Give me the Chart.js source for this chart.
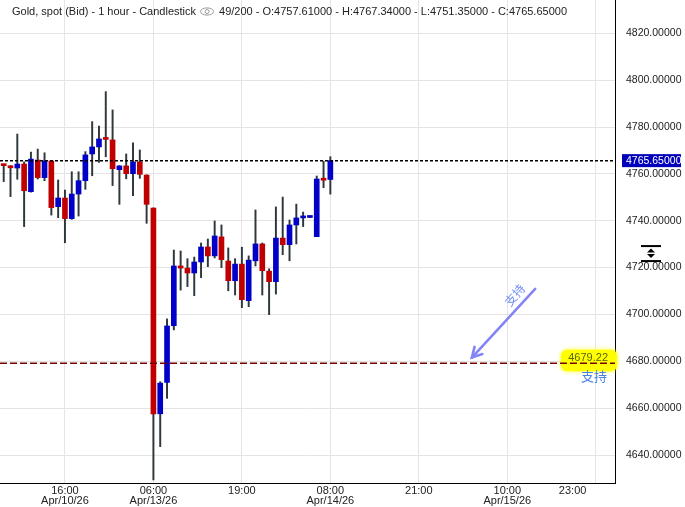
<!DOCTYPE html>
<html><head><meta charset="utf-8">
<script src="https://cdn.jsdelivr.net/npm/chart.js@4.4.1/dist/chart.umd.min.js"></script>
<style>html,body{margin:0;padding:0;background:#fff;}#wrap{width:685px;height:507px;position:relative;}canvas{display:block;}</style>
</head><body><div id="wrap"><canvas id="c" width="685" height="507"></canvas></div>
<script>
// ---- data (hourly candles, index 0..48) ----
const OPEN  = [4764.0,4763.4,4762.5,4764.2,4752.4,4765.9,4758.4,4765.5,4746.0,4749.7,4740.9,4751.4,4757.1,4768.5,4771.5,4775.1,4774.5,4761.8,4763.4,4760.1,4765.1,4759.5,4745.4,4657.6,4671.0,4695.2,4720.7,4719.8,4717.7,4722.4,4728.8,4725.0,4733.1,4722.8,4714.4,4721.5,4705.9,4722.9,4730.1,4718.5,4714.0,4732.6,4729.8,4738.2,4741.2,4741.4,4733.2,4757.6,4757.61];
const HIGH  = [4764.2,4763.5,4777.0,4765.1,4769.3,4770.6,4769.0,4765.7,4757.4,4753.1,4760.9,4760.9,4769.5,4782.3,4780.4,4795.1,4787.3,4763.5,4768.5,4773.2,4770.2,4759.6,4745.5,4671.3,4698.1,4727.5,4727.1,4723.8,4724.5,4730.5,4732.2,4739.9,4738.2,4728.4,4723.8,4728.7,4725.0,4744.6,4730.5,4719.5,4745.9,4750.1,4740.3,4747.1,4743.7,4741.6,4759.1,4765.4,4767.34];
const LOW   = [4756.7,4750.3,4757.7,4737.5,4752.2,4757.8,4757.1,4742.4,4741.3,4730.6,4740.6,4742.0,4753.4,4759.2,4764.9,4767.3,4755.0,4747.0,4757.9,4750.7,4758.1,4738.9,4629.4,4643.6,4664.2,4693.4,4710.4,4711.9,4708.0,4715.7,4720.4,4724.1,4720.0,4710.1,4708.3,4702.9,4703.3,4720.7,4708.3,4699.9,4708.7,4725.5,4722.9,4730.1,4737.5,4741.4,4733.2,4754.1,4751.35];
const CLOSE = [4763.5,4762.6,4764.2,4752.8,4766.3,4758.4,4765.5,4745.6,4749.7,4740.9,4751.4,4757.1,4768.1,4771.5,4774.9,4774.7,4762.2,4763.4,4760.1,4765.1,4759.8,4747.0,4657.6,4670.7,4695.1,4720.7,4719.8,4717.7,4722.4,4728.8,4725.0,4733.5,4723.4,4714.4,4721.5,4706.3,4723.2,4730.1,4718.7,4714.0,4732.6,4729.8,4738.2,4741.2,4742.0,4741.6,4757.8,4757.3,4765.65];

// ---- axis ticks ----
const X_GRID_INDEX  = [9, 22, 35, 48, 61, 74, 87];
const X_LABEL_INDEX = [9, 22, 35, 48, 61, 74, 83.6];
const X_TICK_TIMES  = ['16:00','06:00','19:00','08:00','21:00','10:00','23:00'];
const X_TICK_DATES  = ['Apr/10/26','Apr/13/26','','Apr/14/26','','Apr/15/26',''];
const Y_TICKS = [4640,4660,4680,4700,4720,4740,4760,4780,4800,4820];
const X_MIN = -0.544, X_MAX = 89.83;
const Y_MIN = 4628.07, Y_MAX = 4834.21;

// ---- annotations ----
const LAST_PRICE = 4765.65;
const SUPPORT_PRICE = 4679.22;
const SUPPORT_TEXT = '支持';
const ARROW_FROM = [78.1, 4710.9];
const ARROW_TO   = [68.8, 4681.6];
const ARROW_TEXT_AT = [75.1, 4708.3];
const HEADER_TITLE = 'Gold, spot (Bid) - 1 hour - Candlestick';
const BARS_TOTAL = 200;

const UP = '#0000c8', DOWN = '#c00000', WICK = '#2e383c';
const FONT = '"Liberation Sans", Arial, sans-serif';
const CJK = '"Noto Sans CJK SC", sans-serif';

const idx = OPEN.map((_, i) => i);
const wickData = idx.map(i => ({x: i, y: [LOW[i], HIGH[i]]}));
const bodyData = idx.map(i => ({x: i, y: [OPEN[i], CLOSE[i]]}));
const bodyColors = idx.map(i => CLOSE[i] >= OPEN[i] ? UP : DOWN);

const zeroPad = s => { s.paddingTop = 0; s.paddingBottom = 0; s.paddingLeft = 0; s.paddingRight = 0; };

const overlay = {
  id: 'overlay',
  beforeDatasetsDraw(chart) {
    const {ctx, chartArea: a, scales: {y}} = chart;
    const py = y.getPixelForValue(SUPPORT_PRICE);
    ctx.save();
    ctx.fillStyle = '#ffff00';
    ctx.shadowColor = 'rgba(255,255,0,0.9)';
    ctx.shadowBlur = 4;
    ctx.beginPath();
    ctx.roundRect(a.right - 54, py - 13.5, 56, 21.5, 6);
    ctx.fill();
    ctx.restore();
  },
  afterDraw(chart) {
    const {ctx, chartArea: a, scales: {x, y}} = chart;
    ctx.save();
    // header
    const n = OPEN.length - 1;
    ctx.font = '11px ' + FONT;
    ctx.fillStyle = '#222';
    ctx.textBaseline = 'alphabetic';
    ctx.textAlign = 'left';
    ctx.fillText(HEADER_TITLE, 12, 15);
    const tw = ctx.measureText(HEADER_TITLE).width;
    const ex = 12 + tw + 11, ey = 11.5;
    ctx.strokeStyle = '#9a9a9a'; ctx.lineWidth = 1;
    ctx.beginPath(); ctx.ellipse(ex, ey, 6.5, 3.6, 0, 0, Math.PI * 2); ctx.stroke();
    ctx.beginPath(); ctx.arc(ex, ey, 2, 0, Math.PI * 2); ctx.stroke();
    const info = OPEN.length + '/' + BARS_TOTAL + ' - O:' + OPEN[n].toFixed(5) + ' - H:' + HIGH[n].toFixed(5) +
                 ' - L:' + LOW[n].toFixed(5) + ' - C:' + CLOSE[n].toFixed(5);
    ctx.fillText(info, ex + 12, 15);

    // last price box on axis
    const lp = y.getPixelForValue(LAST_PRICE);
    ctx.fillStyle = '#0000bb';
    ctx.fillRect(a.right + 7, lp - 6.5, 59, 13);
    ctx.fillStyle = '#ffffff';
    ctx.font = '10.5px ' + FONT;
    ctx.textBaseline = 'middle';
    ctx.fillText(LAST_PRICE.toFixed(5), a.right + 11, lp + 0.5);

    // support label
    const sp = y.getPixelForValue(SUPPORT_PRICE);
    ctx.font = '11px ' + FONT;
    ctx.fillStyle = '#5a6400';
    ctx.textAlign = 'right';
    ctx.textBaseline = 'alphabetic';
    ctx.fillText(SUPPORT_PRICE.toFixed(2), a.right - 7, sp - 2);
    ctx.font = '13px ' + CJK;
    ctx.fillStyle = '#4a82e8';
    ctx.textAlign = 'center';
    ctx.textBaseline = 'middle';
    ctx.fillText(SUPPORT_TEXT, a.right - 21, sp + 12.5);

    // arrow
    const x0 = x.getPixelForValue(ARROW_FROM[0]), y0 = y.getPixelForValue(ARROW_FROM[1]);
    const x1 = x.getPixelForValue(ARROW_TO[0]), y1 = y.getPixelForValue(ARROW_TO[1]);
    ctx.strokeStyle = '#8484f6';
    ctx.lineWidth = 2.6;
    ctx.lineCap = 'round';
    ctx.beginPath(); ctx.moveTo(x0, y0); ctx.lineTo(x1, y1); ctx.stroke();
    const ang = Math.atan2(y0 - y1, x0 - x1);
    const hl = 11, spread = 0.5;
    ctx.beginPath();
    ctx.moveTo(x1 + hl * Math.cos(ang - spread), y1 + hl * Math.sin(ang - spread));
    ctx.lineTo(x1, y1);
    ctx.lineTo(x1 + hl * Math.cos(ang + spread), y1 + hl * Math.sin(ang + spread));
    ctx.stroke();

    // rotated label along arrow
    const tx = x.getPixelForValue(ARROW_TEXT_AT[0]), ty = y.getPixelForValue(ARROW_TEXT_AT[1]);
    ctx.save();
    ctx.translate(tx, ty);
    ctx.rotate(-Math.atan2(y1 - y0, x0 - x1) - 0.05);
    ctx.font = '12px ' + CJK;
    ctx.fillStyle = '#6f8ff2';
    ctx.textAlign = 'center';
    ctx.textBaseline = 'middle';
    ctx.fillText(SUPPORT_TEXT, 0, 0);
    ctx.restore();

    // axis scale icon
    const ix = a.right + 36, iy = y.getPixelForValue(4726.2);
    ctx.fillStyle = '#000';
    ctx.fillRect(ix - 10, iy - 8, 20, 2);
    ctx.fillRect(ix - 10, iy + 7, 20, 2);
    ctx.beginPath(); ctx.moveTo(ix - 4, iy - 0.5); ctx.lineTo(ix + 4, iy - 0.5); ctx.lineTo(ix, iy - 4.5); ctx.closePath(); ctx.fill();
    ctx.beginPath(); ctx.moveTo(ix - 4, iy + 1); ctx.lineTo(ix + 4, iy + 1); ctx.lineTo(ix, iy + 5); ctx.closePath(); ctx.fill();
    ctx.restore();
  }
};

new Chart(document.getElementById('c'), {
  type: 'bar',
  data: {
    datasets: [
      { type: 'line', data: [{x: X_MIN, y: LAST_PRICE}, {x: X_MAX, y: LAST_PRICE}], borderColor: '#000', borderWidth: 1.5,
        borderDash: [3, 2], pointRadius: 0, order: 0 },
      { type: 'line', data: [{x: X_MIN, y: SUPPORT_PRICE}, {x: X_MAX, y: SUPPORT_PRICE}], borderColor: '#7a0000', borderWidth: 1.5,
        borderDash: [7, 3], pointRadius: 0, order: 0 },
      { data: bodyData, backgroundColor: bodyColors, barThickness: 5, minBarLength: 2, grouped: false, borderWidth: 0, order: 1 },
      { data: wickData, backgroundColor: WICK, barThickness: 1.3, grouped: false, borderWidth: 0, order: 2 }
    ]
  },
  options: {
    responsive: false, animation: false, devicePixelRatio: 1, events: [],
    layout: { padding: 0 },
    plugins: { legend: { display: false }, tooltip: { enabled: false }, title: { display: false } },
    scales: {
      x: {
        type: 'linear', position: 'bottom', min: X_MIN, max: X_MAX, offset: false,
        grid: { color: '#e4e4e4', lineWidth: 1, drawTicks: false, offset: false },
        border: { display: false },
        ticks: { display: false },
        afterBuildTicks: s => { s.ticks = X_GRID_INDEX.map(v => ({value: v})); },
        afterFit: s => { s.height = 0; zeroPad(s); }
      },
      xl: {
        type: 'linear', position: 'bottom', min: X_MIN, max: X_MAX, offset: false,
        grid: { display: false, drawTicks: false, offset: false },
        border: { display: true, color: '#000', width: 1 },
        ticks: {
          autoSkip: false, maxRotation: 0, minRotation: 0, padding: 3, color: '#222',
          font: { family: FONT, size: 11, lineHeight: 0.92 },
          callback: (v, i) => X_TICK_DATES[i] ? [X_TICK_TIMES[i], X_TICK_DATES[i]] : X_TICK_TIMES[i]
        },
        afterBuildTicks: s => { s.ticks = X_LABEL_INDEX.map(v => ({value: v})); },
        afterFit: s => { s.height = 24; zeroPad(s); }
      },
      y: {
        type: 'linear', position: 'right', min: Y_MIN, max: Y_MAX,
        grid: { color: '#e4e4e4', lineWidth: 1, drawTicks: false },
        border: { display: true, color: '#000', width: 1 },
        ticks: { padding: 11, color: '#222', font: { family: FONT, size: 10.5 }, callback: v => Number(v).toFixed(5) },
        afterBuildTicks: s => { s.ticks = Y_TICKS.map(v => ({value: v})); },
        afterFit: s => { s.width = 70; zeroPad(s); }
      }
    }
  },
  plugins: [overlay]
});
</script></body></html>
